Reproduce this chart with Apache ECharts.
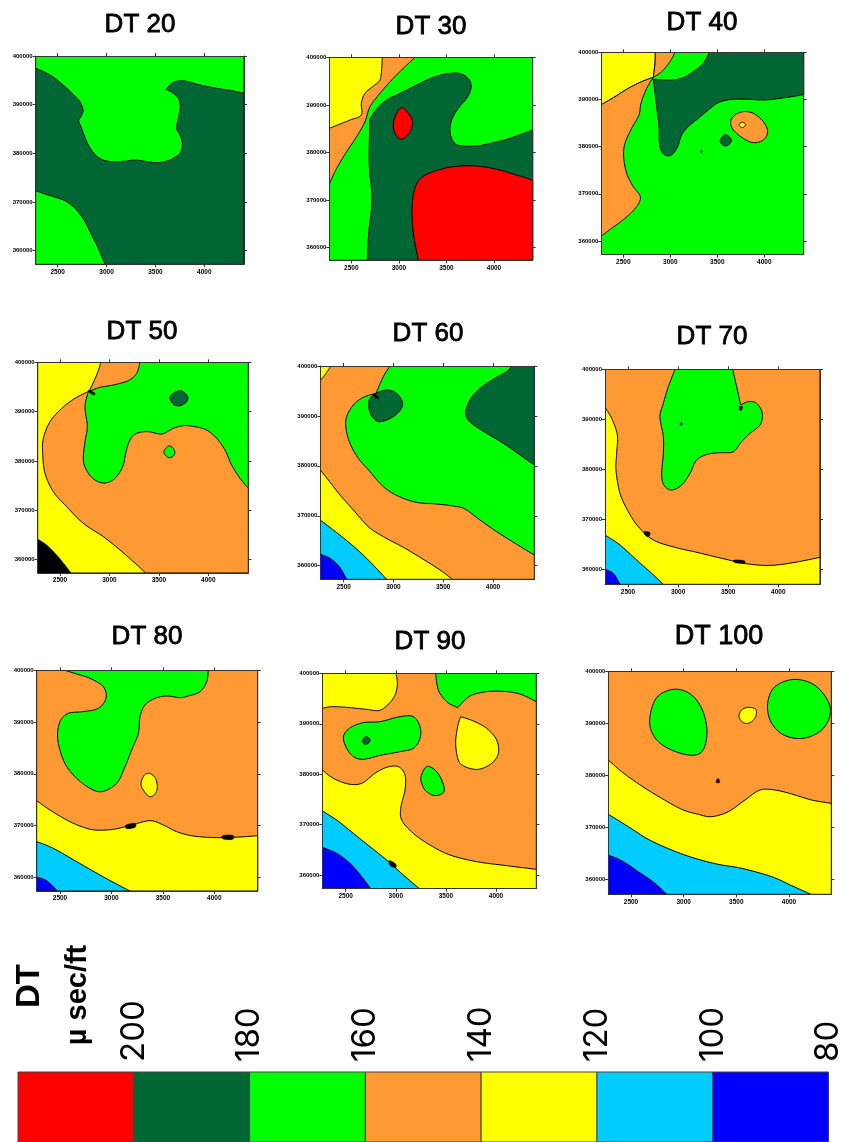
<!DOCTYPE html>
<html><head><meta charset="utf-8">
<style>html,body{margin:0;padding:0;background:#fff}#c{width:845px;height:1142px}</style>
<script src="https://cdn.jsdelivr.net/npm/echarts@6/dist/echarts.min.js"></script>
</head><body><div id="c"></div>
<script>
// ---- legend ----
const legendEdges = [220,200,180,160,140,120,100,80];
const legendColors = ['#ff0000','#006633','#00ff00','#ff9933','#ffff00','#00ccff','#0000ff'];
const binColors = {200:'#ff0000',180:'#006633',160:'#00ff00',140:'#ff9933',120:'#ffff00',100:'#00ccff',80:'#0000ff',0:'#000000'};
// ---- axis tick values ----
const eastTicks = [2500,3000,3500,4000];
const northTicks = [400000,390000,380000,370000,360000];
const titles = ['DT 20','DT 30','DT 40','DT 50','DT 60','DT 70','DT 80','DT 90','DT 100'];
// ---- digitising control: where each tick sits on the digitised sheet ----
const eastControl = [[173,319,465,613],[184,327,470,612],[175,318,457,598],[180,328,474,625],[161,310,459,609],[189,339,490,640],[180,336,492,643],[167,317,467,618],[198,356,515,672]];
const northControl = [[168,313,458,604,752],[172,313,456,600,743],[157,300,441,581,723],[157,306,453,600,749],[168,318,468,618,767],[178,327,477,628,778],[181,333,489,646,802],[160,313,463,613,765],[154,310,466,622,779]];
// map frame on the digitised sheet [west,east,north,south]
const sheetFrames = [[107,732,168,793],[118,728,172,781],[109,716,157,764],[113,745,157,789],[91,733,168,808],[120,765,178,823],[110,773,181,843],[97,739,160,806],[130,799,154,823]];
// sheet origin on the page
const sheetOrigins = [[0,0],[290,0],[565,0],[0,310],[290,310],[565,310],[0,610],[290,620],[565,620]];
const titlePos = [[140,25,26],[431,27,26],[702,23,26],[142,332,26],[428,334,26],[712,337,26],[147,637,26],[430,642,26],[719,637,27]];

// ---- contour regions: [DT bin, digitised vertices]; a third vertex value marks a cusp ----
const dt20 = [[160,[[107,168],[107,205],[135,217],[165,235],[195,260],[225,288],[240,305],[249,330],[243,350],[236,362],[245,385],[258,420],[272,447],[290,468],[310,480],[335,485],[370,484],[405,480],[435,484],[465,488],[495,485],[525,472],[543,455],[547,430],[540,405],[530,385],[535,355],[541,320],[535,295],[520,280],[499,268,1],[515,250],[535,243],[560,244],[600,255],[650,265],[700,273],[732,280],[732,168]]],
[160,[[107,572],[135,582],[170,593],[200,605],[230,630],[255,665],[275,705],[295,745],[315,793],[107,793]]]];
const dt30 = [[140,[[118,172],[375,172],[340,205],[305,240],[270,280],[240,320],[225,365],[200,410],[170,455],[140,505],[118,552]]],
[120,[[118,172],[277,172],[275,205],[270,240],[250,258],[225,280],[214,310],[214,345],[180,360],[150,372],[118,385]]],
[180,[[240,357,1],[262,325],[290,300],[330,280],[380,255],[430,232],[480,220],[515,222],[538,240],[543,265],[530,295],[505,325],[485,360],[480,395],[490,425],[510,437],[560,438],[610,428],[660,415],[728,390],[728,781],[232,781],[236,700],[246,600],[238,500],[238,430]]],
[200,[[728,540],[680,525],[620,508],[560,498],[490,500],[430,515],[390,537],[372,575],[366,630],[370,700],[385,781],[728,781]]],
[200,[[335,323],[355,340],[368,365],[360,395],[337,417],[320,408],[310,380],[317,345]]]];
const dt40 = [[120,[[109,157],[271,157],[270,190],[265,232,1],[230,245],[190,265],[150,290],[109,314]]],
[140,[[271,157],[330,157],[315,185],[290,215],[265,232,1],[270,190]]],
[140,[[109,314],[150,290],[190,265],[230,245],[265,232,1],[245,265],[228,310],[222,345],[200,385],[180,430],[176,470],[185,520],[205,560],[226,590],[215,620],[180,655],[140,685],[109,708]]],
[180,[[265,238,1],[310,240],[350,235],[385,215],[415,190],[433,157],[716,157],[716,284],[660,293],[600,300],[550,298],[500,298],[460,308],[430,330],[400,355],[370,380],[350,405],[338,440],[322,463],[305,467],[290,455],[283,425],[282,380],[275,320]]],
[140,[[497,365],[510,345],[535,335],[565,340],[595,365],[608,395],[595,420],[565,428],[535,415],[505,390]]],
[120,[[522,374],[532,367],[542,374],[532,383]]],
[180,[[466,420],[480,404],[497,415],[497,428],[483,438],[470,432]]],
[180,[[406,455],[409,452],[412,455],[409,458]]]];
const dt50 = [[120,[[113,157],[303,157],[290,195],[268,243,1],[225,265],[185,295],[150,335],[130,385],[128,430],[135,490],[160,545],[200,590],[250,640],[310,680],[360,720],[400,755],[437,789],[113,789]]],
[160,[[420,157],[745,157],[745,535],[720,505],[695,465],[675,420],[650,385],[620,360],[585,350],[550,347],[520,355],[485,372],[445,365],[410,370],[390,390],[378,425],[368,470],[345,505],[315,519],[285,510],[262,485],[250,450],[255,395],[262,350],[255,290],[265,245,1],[300,232],[340,225],[385,212],[410,190]]],
[180,[[510,262],[525,247],[545,243],[562,258],[560,275],[540,287],[520,283]]],
[160,[[492,425],[505,408],[520,415],[524,432],[510,443],[498,437]]],
[0,[[113,687],[140,705],[170,735],[195,765],[213,789],[113,789]]],
[0,[[268,240],[285,250],[280,255],[266,245]]]];
const dt60 = [[140,[[91,168],[300,168],[280,200],[258,250,1],[220,262],[190,285],[170,320],[168,355],[180,400],[205,445],[240,485],[270,520],[300,545],[340,565],[385,578],[440,582],[490,588],[525,597],[570,630],[620,665],[680,703],[733,735],[733,808],[91,808]]],
[120,[[91,480],[115,510],[150,555],[190,600],[235,650],[280,680],[340,712],[395,745],[450,780],[487,808],[91,808]]],
[120,[[91,168],[123,168],[108,190],[91,212]]],
[100,[[91,630],[130,660],[180,700],[230,745],[290,808],[91,808]]],
[80,[[91,733],[120,745],[148,770],[170,808],[91,808]]],
[180,[[258,250],[290,240],[320,250],[338,280],[325,308],[295,328],[265,335],[245,318],[236,290],[240,265]]],
[180,[[665,168],[733,168],[733,465],[690,435],[640,400],[590,370],[545,340],[527,312],[540,270],[570,235],[615,205],[650,185]]],
[0,[[250,252],[262,258],[266,266],[254,262]]]];
const dt70 = [[160,[[330,178],[503,178],[515,230],[527,285,1],[550,275],[575,280],[592,310],[585,345],[555,370],[530,395],[505,425],[470,428],[430,432],[395,450],[375,490],[350,525],[320,540],[298,527],[290,495],[295,430],[295,380],[285,320],[295,280],[310,230]]],
[120,[[120,292],[140,325],[157,375],[155,430],[153,480],[165,550],[190,605],[220,650],[265,690],[330,712],[400,728],[470,745],[550,762],[620,766],[690,757],[765,742],[765,823],[120,823]]],
[100,[[120,675],[165,705],[215,750],[260,790],[295,823],[120,823]]],
[80,[[120,778],[145,790],[165,823],[120,823]]],
[0,[[238,665],[255,668],[250,680],[240,675]]],
[0,[[508,750],[537,752],[537,760],[510,758]]],
[0,[[523,290],[532,290],[530,300],[524,300]]],
[0,[[345,342],[348,338],[352,342],[348,346]]]];
const dt80 = [[160,[[195,181],[625,181],[620,215],[600,245],[565,258],[540,263],[500,258],[465,265],[435,285],[420,320],[415,370],[395,420],[375,470],[350,520],[305,545],[265,532],[220,495],[190,450],[173,385],[180,335],[205,310],[250,305],[295,295],[318,265],[310,230],[270,205],[230,192]]],
[120,[[423,520],[432,497],[447,490],[465,503],[472,530],[465,552],[448,560],[430,540]]],
[120,[[110,572],[150,600],[200,630],[245,650],[285,660],[340,658],[395,645],[450,632],[490,645],[530,665],[580,678],[650,683],[720,681],[773,677],[773,843],[110,843]]],
[100,[[110,695],[160,715],[230,755],[300,795],[355,825],[390,843],[110,843]]],
[80,[[110,802],[140,812],[172,843],[110,843]]],
[0,[[378,645],[405,640],[405,652],[380,656]]],
[0,[[668,677],[698,676],[698,688],[670,687]]]];
const dt90 = [[120,[[97,160],[318,160],[322,195],[310,235],[272,270],[230,268],[170,262],[125,260],[97,265]]],
[160,[[437,160],[739,160],[739,245],[690,222],[640,214],[590,215],[540,228],[503,263,1],[470,245],[445,210]]],
[160,[[160,355],[178,325],[220,308],[270,305],[330,290],[370,290],[390,320],[390,355],[370,385],[330,395],[275,405],[215,418],[180,400]]],
[180,[[218,360],[228,350],[240,358],[235,370],[222,372]]],
[120,[[512,290,1],[550,303],[590,325],[620,360],[625,400],[605,430],[565,448],[525,440],[505,420],[497,370],[503,320]]],
[160,[[393,470],[410,440],[435,450],[455,480],[462,515],[435,527],[410,515],[397,495]]],
[120,[[97,450],[130,475],[175,492],[215,490],[255,460],[290,442],[325,440],[345,465],[345,510],[333,560],[335,600],[370,640],[420,675],[480,705],[560,725],[650,737],[739,748],[739,806],[97,806]]],
[100,[[97,573],[140,600],[190,640],[240,680],[290,720],[340,765],[388,806],[97,806]]],
[80,[[97,682],[140,700],[180,730],[215,770],[242,806],[97,806]]],
[0,[[297,722],[315,730],[318,742],[302,738]]]];
const dt100 = [[160,[[255,290],[270,240],[300,215],[340,208],[380,225],[410,265],[425,320],[422,370],[405,400],[370,405],[320,390],[280,365],[258,330]]],
[120,[[522,290],[530,270],[550,262],[572,268],[572,290],[555,308],[535,308]]],
[160,[[608,250],[625,205],[665,182],[710,180],[755,200],[790,245],[795,285],[775,325],[735,350],[690,355],[645,338],[615,300]]],
[120,[[130,420],[170,455],[230,498],[290,535],[350,568],[400,583],[440,590],[490,575],[540,540],[585,510],[630,510],[680,522],[740,540],[799,550],[799,823],[130,823]]],
[100,[[130,583],[190,620],[250,658],[320,690],[390,715],[460,733],[530,745],[620,770],[680,797],[738,823],[130,823]]],
[80,[[130,705],[170,722],[220,755],[270,790],[305,823],[130,823]]],
[0,[[453,487],[459,475],[464,487]]]];
const panelRegions = [dt20,dt30,dt40,dt50,dt60,dt70,dt80,dt90,dt100];
// background DT bin of each map
const baseBins = [180,160,160,140,160,140,140,140,140];

// ---- smooth closed outline through vertices, kept sharp at cusps/map edge ----
function chain(p,out){
  for(let i=0;i<p.length-1;i++){
    const a=p[i-1]||p[i],b=p[i],c=p[i+1],d=p[i+2]||c;
    for(let k=0;k<8;k++){const t=k/8,t2=t*t,t3=t2*t;
      out.push([0,1].map(j=>0.5*(2*b[j]+(c[j]-a[j])*t+(2*a[j]-5*b[j]+4*c[j]-d[j])*t2+(3*b[j]-a[j]-3*c[j]+d[j])*t3)));}
  }
}
function outline(pts,flags){
  const n=pts.length,first=flags.indexOf(1),out=[];
  if(first<0){
    for(let i=0;i<n;i++){const a=pts[(i-1+n)%n],b=pts[i],c=pts[(i+1)%n],d=pts[(i+2)%n];
      for(let k=0;k<8;k++){const t=k/8,t2=t*t,t3=t2*t;
        out.push([0,1].map(j=>0.5*(2*b[j]+(c[j]-a[j])*t+(2*a[j]-5*b[j]+4*c[j]-d[j])*t2+(3*b[j]-a[j]-3*c[j]+d[j])*t3)));}}
    return out;
  }
  let run=[pts[first]];
  for(let s=1;s<=n;s++){const i=(first+s)%n;run.push(pts[i]);
    if(flags[i]){chain(run,out);run=[pts[i]];}}
  return out;
}

const grid=[],xAxis=[],yAxis=[],series=[],graphic=[];
const tickStyle={color:'#333',width:1};
panelRegions.forEach((regions,i)=>{
  const [L,R,T,B]=sheetFrames[i],[ox,oy]=sheetOrigins[i],ec=eastControl[i],nc=northControl[i];
  const east=z=>eastTicks[0]+(z-ec[0])/(ec[3]-ec[0])*(eastTicks[3]-eastTicks[0]);
  const north=z=>northTicks[0]+(z-nc[0])/(nc[4]-nc[0])*(northTicks[4]-northTicks[0]);
  grid.push({left:ox+L/3,top:oy+T/3,width:(R-L)/3,height:(B-T)/3,containLabel:false});
  const common=(extra)=>Object.assign({type:'value',gridIndex:i,z:10,scale:true,splitLine:{show:false},axisLine:{show:true,onZero:false,lineStyle:{color:'#333',width:1}}},extra);
  const xr={min:east(L),max:east(R)},yr={min:north(B),max:north(T)};
  xAxis.push(common({...xr,position:'bottom',axisTick:{show:true,length:3,lineStyle:tickStyle,customValues:eastTicks},
    axisLabel:{show:true,customValues:eastTicks,margin:4,fontFamily:'Liberation Sans',fontWeight:'bold',fontSize:6.5,color:'#000',formatter:v=>String(Math.round(v))}}));
  xAxis.push(common({...xr,position:'top',axisTick:{show:true,length:3,lineStyle:tickStyle,customValues:eastTicks},axisLabel:{show:false}}));
  yAxis.push(common({...yr,position:'left',axisTick:{show:true,length:3,lineStyle:tickStyle,customValues:northTicks},
    axisLabel:{show:true,customValues:northTicks,margin:3,fontFamily:'Liberation Sans',fontWeight:'bold',fontSize:6,color:'#000',formatter:v=>String(Math.round(v))}}));
  yAxis.push(common({...yr,position:'right',axisTick:{show:true,length:3,lineStyle:tickStyle,customValues:northTicks},axisLabel:{show:false}}));
  const all=[[baseBins[i],[[L,T],[R,T],[R,B],[L,B]]]].concat(regions);
  all.forEach(([bin,verts])=>{
    const flags=verts.map(v=>(v[2]||v[0]<=L+1||v[0]>=R-1||v[1]<=T+1||v[1]>=B-1)?1:0);
    series.push({type:'custom',xAxisIndex:2*i,yAxisIndex:2*i,coordinateSystem:'cartesian2d',clip:true,silent:true,animation:false,
      data:verts.map(v=>[east(v[0]),north(v[1])]),encode:{x:0,y:1},
      renderItem:(params,api)=>{
        if(params.dataIndex!==0) return null;
        const px=verts.map(v=>api.coord([east(v[0]),north(v[1])]));
        return {type:'polygon',shape:{points:outline(px,flags)},
          style:{fill:binColors[bin],stroke:'#000',lineWidth:bin===0?0.5:1,lineJoin:'round'}};
      }});
  });
  const [tx,ty,fs]=titlePos[i];
  graphic.push({type:'text',x:tx,y:ty,style:{text:titles[i],fontFamily:'Liberation Sans',fontSize:fs,fill:'#000',stroke:'#000',lineWidth:0.8,textAlign:'center',textVerticalAlign:'middle'}});
});
// legend bar on its own DT axis
grid.push({left:18,top:1072,width:812,height:70});
xAxis.push({type:'value',gridIndex:9,min:80,max:220,interval:20,inverse:true,position:'top',z:10,splitLine:{show:false},axisLine:{show:false},axisTick:{show:false},
  axisLabel:{rotate:90,margin:10,fontFamily:'Inter',fontSize:33,color:'#000',formatter:v=>v===220?'':String(v)}});
yAxis.push({type:'value',gridIndex:9,min:0,max:1,show:false});
series.push({type:'custom',xAxisIndex:18,yAxisIndex:18,silent:true,animation:false,clip:false,
  data:legendColors.map((c,k)=>[legendEdges[k],legendEdges[k+1],k]),encode:{x:[0,1]},
  renderItem:(params,api)=>{
    const a=api.coord([api.value(0),1]),b=api.coord([api.value(1),0]);
    return {type:'rect',shape:{x:a[0],y:a[1],width:b[0]-a[0],height:b[1]-a[1]},style:{fill:legendColors[api.value(2)],stroke:'#444',lineWidth:1}};
  }});
graphic.push({type:'text',x:30,y:986,rotation:Math.PI/2,style:{text:'DT',fontFamily:'Liberation Sans',fontWeight:'bold',fontSize:33,fill:'#000',textAlign:'center',textVerticalAlign:'middle'}});
graphic.push({type:'text',x:78,y:995,rotation:Math.PI/2,style:{text:'µ sec/ft',fontFamily:'Liberation Sans',fontWeight:'bold',fontSize:29,fill:'#000',textAlign:'center',textVerticalAlign:'middle'}});

const chart=echarts.init(document.getElementById('c'),null,{renderer:'canvas'});
chart.setOption({animation:false,backgroundColor:'#fff',grid,xAxis,yAxis,series,graphic});
</script></body></html>
